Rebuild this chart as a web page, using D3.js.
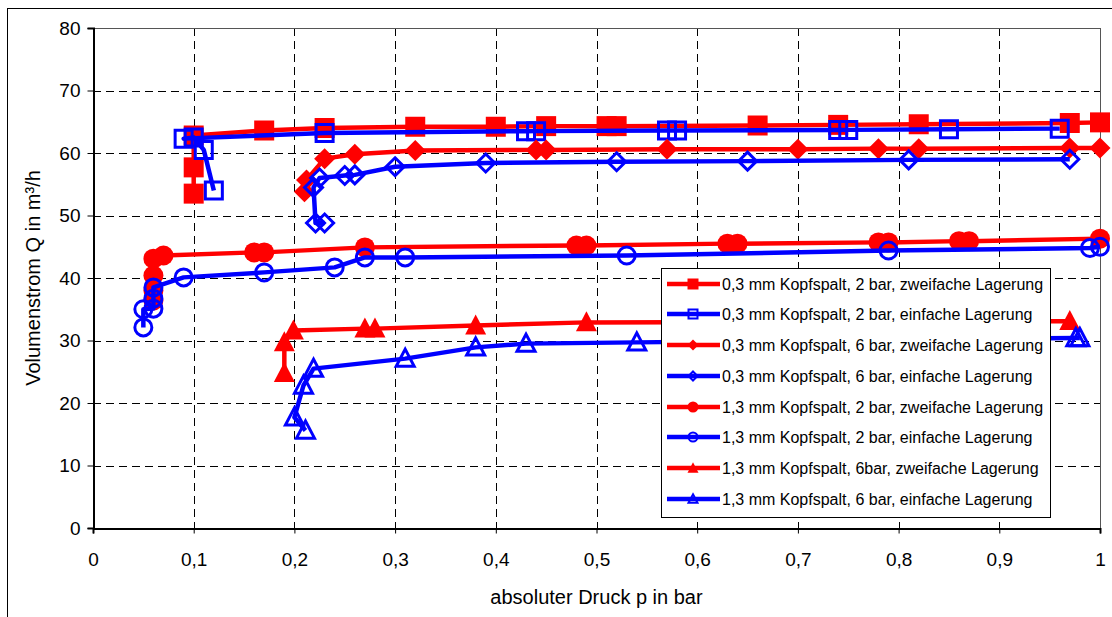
<!DOCTYPE html>
<html><head><meta charset="utf-8">
<script src="https://cdn.jsdelivr.net/npm/d3@7"></script>
<style>body{margin:0;background:#fff}svg{display:block}</style>
</head><body><svg id="c" width="1112" height="617"></svg>
<script>
// ---- data ----
const seriesNames = [
  "0,3 mm Kopfspalt, 2 bar, zweifache Lagerung",
  "0,3 mm Kopfspalt, 2 bar, einfache Lagerung",
  "0,3 mm Kopfspalt, 6 bar, zweifache Lagerung",
  "0,3 mm Kopfspalt, 6 bar, einfache Lagerung",
  "1,3 mm Kopfspalt, 2 bar, zweifache Lagerung",
  "1,3 mm Kopfspalt, 2 bar, einfache Lagerung",
  "1,3 mm Kopfspalt, 6bar, zweifache Lagerung",
  "1,3 mm Kopfspalt, 6 bar, einfache Lagerung"
];
const s1x = [0.1,0.1,0.1,0.17,0.23,0.32,0.4,0.45,0.51,0.52,0.66,0.74,0.82,0.97,1.0];
const s1y = [53.5,57.7,62.8,63.6,64.0,64.2,64.2,64.3,64.3,64.3,64.4,64.5,64.6,64.8,64.9];
const s2x = [0.96,0.85,0.75,0.74,0.58,0.57,0.44,0.43,0.23,0.09,0.1,0.11,0.12];
const s2y = [63.9,63.8,63.7,63.7,63.6,63.6,63.5,63.5,63.2,62.3,62.5,60.5,54.0];
const s3x = [0.21,0.212,0.23,0.26,0.32,0.44,0.45,0.57,0.70,0.78,0.82,0.97,1.0];
const s3y = [53.8,55.7,59.1,59.8,60.4,60.5,60.5,60.6,60.6,60.7,60.7,60.8,60.8];
const s4x = [0.97,0.81,0.65,0.52,0.39,0.30,0.26,0.25,0.225,0.219,0.221,0.23];
const s4y = [59.0,58.9,58.7,58.6,58.4,57.8,56.5,56.4,56.0,54.5,48.8,48.8];
const s5x = [0.06,0.06,0.06,0.06,0.07,0.16,0.17,0.27,0.48,0.49,0.63,0.64,0.78,0.79,0.86,0.87,1.0];
const s5y = [36.4,38.0,40.4,43.1,43.6,44.1,44.1,44.9,45.2,45.2,45.5,45.5,45.7,45.7,45.9,45.9,46.3];
const s6x = [0.05,0.05,0.06,0.06,0.06,0.09,0.17,0.24,0.27,0.31,0.53,0.79,0.99,1.0];
const s6y = [32.1,35.0,35.1,36.7,38.5,40.1,40.9,41.7,43.3,43.3,43.6,44.4,44.8,45.0];
const s7x = [0.19,0.19,0.199,0.27,0.28,0.38,0.49,0.97];
const s7y = [24.8,29.7,31.6,31.9,31.9,32.4,32.9,33.1];
const s8x = [0.211,0.2,0.209,0.219,0.31,0.38,0.43,0.54,0.976,0.98];
const s8y = [15.6,17.7,22.8,25.5,27.1,28.9,29.5,29.7,30.4,30.4];
const xTicks = [0,0.1,0.2,0.3,0.4,0.5,0.6,0.7,0.8,0.9,1];
const yTicks = [0,10,20,30,40,50,60,70,80];

const seriesX = [s1x,s2x,s3x,s4x,s5x,s6x,s7x,s8x];
const seriesY = [s1y,s2y,s3y,s4y,s5y,s6y,s7y,s8y];
const colors = ["#ff0000","#0000ff","#ff0000","#0000ff","#ff0000","#0000ff","#ff0000","#0000ff"];
const shapes = ["square","square","diamond","diamond","circle","circle","triangle","triangle"];
const filled = [true,false,true,false,true,false,true,false];

const FONT = "'Liberation Sans', Arial, sans-serif";
const svg = d3.select("#c");
const L=93, R=1100, T=28, B=528;
const x = d3.scaleLinear().domain([0,1]).range([L,R]);
const y = d3.scaleLinear().domain([0,80]).range([B,T]);

// chart frame
svg.append("rect").attr("x",7.5).attr("y",8.5).attr("width",1120).attr("height",640)
  .attr("fill","none").attr("stroke","#000").attr("stroke-width",1);

// gridlines
const g = svg.append("g");
g.selectAll(".hg").data(yTicks.filter(v=>v>0&&v<80)).enter().append("line")
  .attr("x1",L).attr("x2",R).attr("y1",d=>Math.round(y(d))+0.5).attr("y2",d=>Math.round(y(d))+0.5)
  .attr("stroke","#000").attr("stroke-width",1).attr("stroke-dasharray","8,5");
g.selectAll(".vg").data(xTicks.filter(v=>v>0&&v<1)).enter().append("line")
  .attr("y1",T).attr("y2",B).attr("x1",d=>Math.round(x(d))+0.5).attr("x2",d=>Math.round(x(d))+0.5)
  .attr("stroke","#000").attr("stroke-width",1).attr("stroke-dasharray","8,5");
// plot border top/right
svg.append("line").attr("x1",L).attr("x2",R).attr("y1",T+0.5).attr("y2",T+0.5).attr("stroke","#555").attr("stroke-width",1);
svg.append("line").attr("x1",R+0.5).attr("x2",R+0.5).attr("y1",T).attr("y2",B).attr("stroke","#555").attr("stroke-width",1);

// axes
const xAxis = svg.append("g").attr("transform",`translate(0,${B+0.5})`)
  .call(d3.axisBottom(x).tickValues(xTicks).tickSize(5).tickFormat(d=>String(d).replace(".",",")));
const yAxis = svg.append("g").attr("transform",`translate(${L+0.5},0)`)
  .call(d3.axisLeft(y).tickValues(yTicks).tickSize(6));
[xAxis,yAxis].forEach(a=>{
  a.select(".domain").attr("stroke","#000").attr("stroke-width",2);
  a.selectAll(".tick line").attr("stroke","#000");
  a.selectAll("text").attr("font-family",FONT).attr("font-size",19).attr("fill","#000");
});
xAxis.selectAll("text").attr("dy","0").attr("y",37);
yAxis.selectAll("text").attr("x",-13);

svg.append("text").attr("x",(L+R)/2).attr("y",604).attr("text-anchor","middle")
  .attr("font-family",FONT).attr("font-size",20).text("absoluter Druck p in bar");
svg.append("text").attr("transform","translate(40,278) rotate(-90)").attr("text-anchor","middle")
  .attr("font-family",FONT).attr("font-size",20).text("Volumenstrom Q in m³/h");

function marker(sel, shape, size, color, fill, sw){
  const h=size/2;
  let p;
  if(shape==="square") p=`M${-h},${-h}H${h}V${h}H${-h}Z`;
  else if(shape==="diamond") p=`M0,${-h}L${h},0L0,${h}L${-h},0Z`;
  else if(shape==="triangle") p=`M0,${-h*1.05}L${h},${h*0.85}L${-h},${h*0.85}Z`;
  else p=d3.arc()({innerRadius:0,outerRadius:h,startAngle:0,endAngle:2*Math.PI});
  sel.append("path").attr("d",p)
    .attr("fill",fill?color:"#fff").attr("fill-opacity",fill?1:0)
    .attr("stroke",color).attr("stroke-width",fill?0:sw);
}

const line = d3.line().x(d=>x(d[0])).y(d=>y(d[1]));
const sizes = {square:[20,17],diamond:[21,18],circle:[20,17],triangle:[21,18]};
seriesX.forEach((xs,i)=>{
  const pts = xs.map((v,j)=>[v,seriesY[i][j]]);
  const sg = svg.append("g");
  sg.append("path").attr("d",line(pts)).attr("fill","none").attr("stroke",colors[i])
    .attr("stroke-width",4.5).attr("stroke-linejoin","round");
  pts.forEach(p=>{
    const m = sg.append("g").attr("transform",`translate(${x(p[0])},${y(p[1])})`);
    marker(m, shapes[i], sizes[shapes[i]][filled[i]?0:1], colors[i], filled[i], 3);
  });
});

// legend
const lg = svg.append("g");
lg.append("rect").attr("x",661.5).attr("y",268.5).attr("width",389).attr("height",249)
  .attr("fill","#fff").attr("stroke","#000").attr("stroke-width",1);
const rowY = [284,314,345,376,407,437,468,499];
seriesNames.forEach((n,i)=>{
  const ry=rowY[i];
  lg.append("line").attr("x1",667).attr("x2",720).attr("y1",ry).attr("y2",ry)
    .attr("stroke",colors[i]).attr("stroke-width",4.5);
  const m = lg.append("g").attr("transform",`translate(693,${ry})`);
  marker(m, shapes[i], filled[i]?11:9, colors[i], filled[i], 2);
  lg.append("text").attr("x",722).attr("y",ry+5.5).attr("font-family",FONT).attr("font-size",16)
    .attr("fill","#000").text(n);
});
</script></body></html>
